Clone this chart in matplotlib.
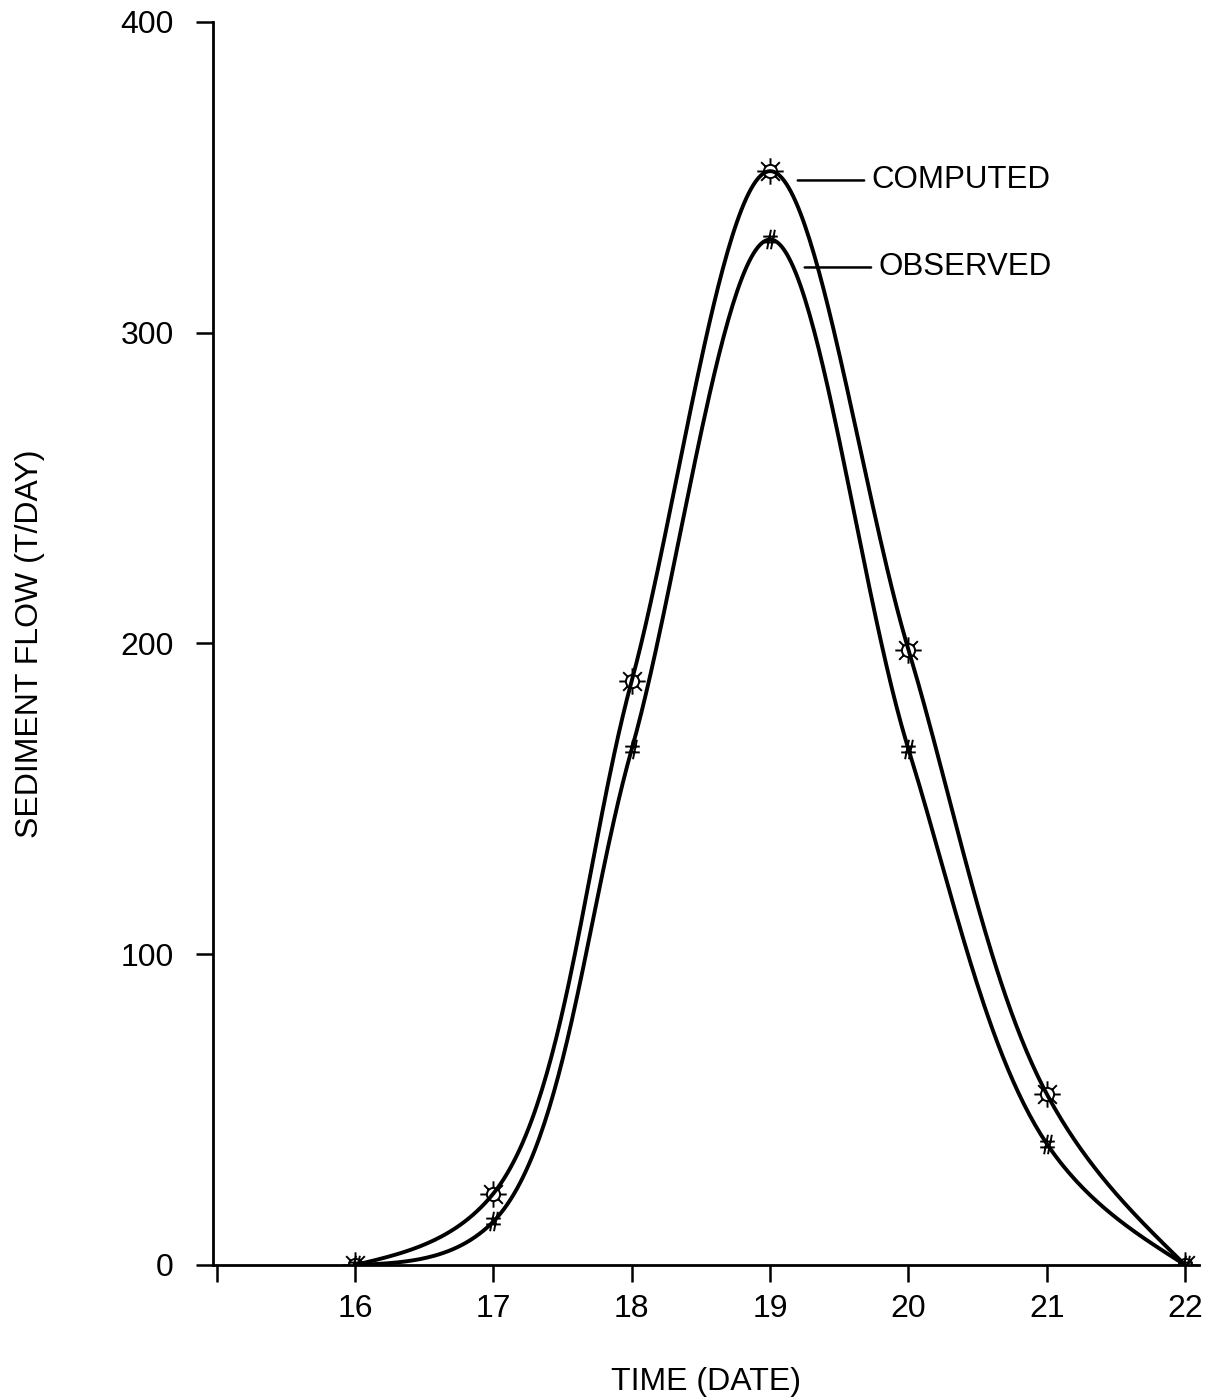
import numpy as np
import matplotlib
matplotlib.use('Agg')
import matplotlib.pyplot as plt
from matplotlib.path import Path

# Values
dates = [16, 17, 18, 19, 20, 21, 22]
computed = [0, 23, 188, 352, 198, 55, 0]
observed = [0, 14, 166, 330, 166, 39, 0]
x_ticks = [15, 16, 17, 18, 19, 20, 21, 22]
x_tick_labels = ['', '16', '17', '18', '19', '20', '21', '22']
y_ticks = [0, 100, 200, 300, 400]


def smooth_curve(ax, x, y, alpha=0.5, n_seg=60):
    # centripetal Catmull-Rom curve through the points, built in screen space
    P = ax.transData.transform(np.column_stack([x, y]))
    d = np.hypot(*np.diff(P, axis=0).T) ** alpha
    n = len(P)
    M = np.zeros_like(P)
    for i in range(1, n - 1):
        M[i] = ((P[i] - P[i - 1]) / d[i - 1] * d[i]
                + (P[i + 1] - P[i]) / d[i] * d[i - 1]) / (d[i - 1] + d[i])
    M[0] = (3 * (P[1] - P[0]) / d[0] - M[1]) / 2
    M[-1] = (3 * (P[-1] - P[-2]) / d[-1] - M[-2]) / 2
    s = np.linspace(0, 1, n_seg)[:, None]
    h00 = 2 * s**3 - 3 * s**2 + 1
    h10 = s**3 - 2 * s**2 + s
    h01 = -2 * s**3 + 3 * s**2
    h11 = s**3 - s**2
    pieces = [h00 * P[i] + h10 * d[i] * M[i] + h01 * P[i + 1] + h11 * d[i] * M[i + 1]
              for i in range(n - 1)]
    return ax.transData.inverted().transform(np.vstack(pieces)).T


# sun-like marker: open circle with eight rays
circle = Path.circle((0, 0), 0.5)
ray_verts = []
ray_codes = []
for a in np.arange(8) * np.pi / 4:
    ray_verts += [(0.55 * np.cos(a), 0.55 * np.sin(a)), (np.cos(a), np.sin(a))]
    ray_codes += [Path.MOVETO, Path.LINETO]
sun_marker = Path.make_compound_path(circle, Path(ray_verts, ray_codes))

# hash marker with slanted strokes
hash_marker = Path(
    [(-0.35, -1), (0.05, 1), (0.05, -1), (0.45, 1),
     (-0.75, 0.3), (0.75, 0.3), (-0.75, -0.3), (0.75, -0.3)],
    [Path.MOVETO, Path.LINETO] * 4)

plt.rcParams['font.family'] = ['Liberation Sans', 'DejaVu Sans']

fig = plt.figure(figsize=(12.2, 13.99), dpi=100)
ax = fig.add_axes([0.1742, 0.0958, 0.8086, 0.8885])
ax.set_xlim(14.97, 22.1)
ax.set_ylim(0, 400)

xs, ys = smooth_curve(ax, dates, computed)
ax.plot(xs, ys, color='black', lw=2.8)
xs, ys = smooth_curve(ax, dates, observed)
ax.plot(xs, ys, color='black', lw=2.8)

ax.plot(dates, computed, linestyle='none', marker=sun_marker, markersize=19,
        color='black', markerfacecolor='none', markeredgewidth=1.4)
ax.plot(dates, observed, linestyle='none', marker=hash_marker, markersize=14,
        color='black', markerfacecolor='none', markeredgewidth=1.4)

# leader lines and labels
ax.annotate('COMPUTED', xy=(19.2, 349), xytext=(19.73, 349),
            fontsize=22.5, va='center', ha='left',
            arrowprops=dict(arrowstyle='-', color='black', lw=1.8, shrinkA=3, shrinkB=0))
ax.annotate('OBSERVED', xy=(19.25, 321), xytext=(19.78, 321),
            fontsize=22.5, va='center', ha='left',
            arrowprops=dict(arrowstyle='-', color='black', lw=1.8, shrinkA=3, shrinkB=0))

ax.set_xticks(x_ticks)
ax.set_xticklabels(x_tick_labels)
ax.set_yticks(y_ticks)
ax.tick_params(axis='x', length=12, width=1.8, pad=9, labelsize=23)
ax.tick_params(axis='y', length=12, width=1.8, pad=16, labelsize=23)

for side in ['top', 'right']:
    ax.spines[side].set_visible(False)
for side in ['left', 'bottom']:
    ax.spines[side].set_linewidth(2)

ax.set_xlabel('TIME (DATE)', fontsize=23, labelpad=31)
ax.set_ylabel('SEDIMENT FLOW (T/DAY)', fontsize=23, labelpad=54)

fig.savefig('out.png', dpi=100)
